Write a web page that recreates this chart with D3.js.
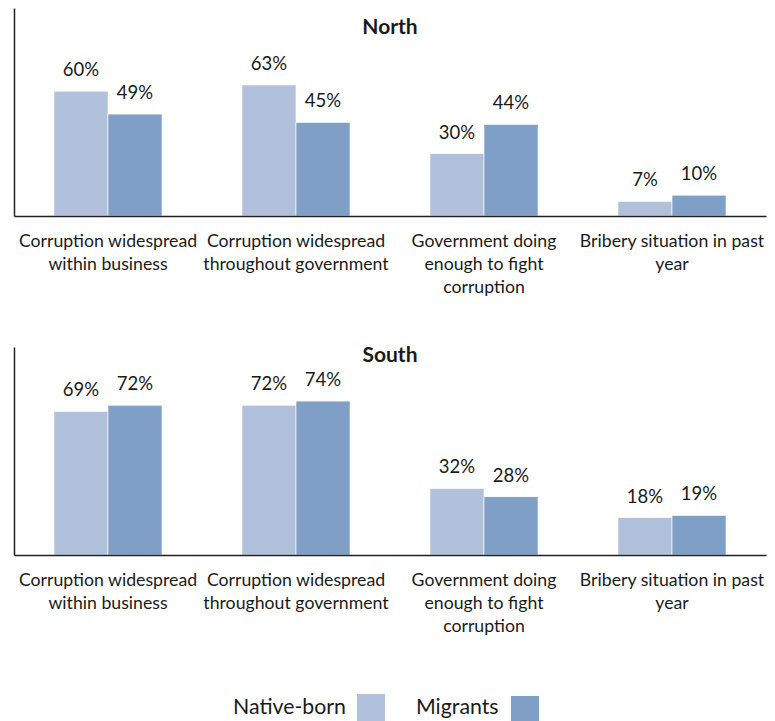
<!DOCTYPE html>
<html>
<head>
<meta charset="utf-8">
<script src="https://cdn.jsdelivr.net/npm/d3@7"></script>
<style>
  html, body { margin: 0; padding: 0; background: #fff; }
  svg { display: block; }
  text { font-family: Lato, "Liberation Sans", Arial, sans-serif; fill: #1a1a1a; }
</style>
</head>
<body>
<svg id="chart" width="775" height="721"></svg>
<script>
const categories = [
  "Corruption widespread within business",
  "Corruption widespread throughout government",
  "Government doing enough to fight corruption",
  "Bribery situation in past year"
];
const categoryLines = [
  ["Corruption widespread", "within business"],
  ["Corruption widespread", "throughout government"],
  ["Government doing", "enough to fight", "corruption"],
  ["Bribery situation in past", "year"]
];
const series = ["Native-born", "Migrants"];
const colors = ["#B1C1DC", "#7F9FC7"];
const panels = ["North", "South"];
const northNative = [60, 63, 30, 7];
const northMigrants = [49, 45, 44, 10];
const southNative = [69, 72, 32, 18];
const southMigrants = [72, 74, 28, 19];
const panelValues = [[northNative, northMigrants], [southNative, southMigrants]];

const svg = d3.select("#chart");
const left = 14, right = 766;
const layouts = [
  { top: 8, bottom: 216, titleY: 34 },
  { top: 347, bottom: 555, titleY: 362 }
];

const x0 = d3.scaleBand().domain(categories).range([left, right]).padding(0);
const x1 = d3.scaleBand().domain(series).range([0, x0.bandwidth()]).paddingInner(0).paddingOuter(0.74);

panels.forEach((name, pi) => {
  const L = layouts[pi];
  const y = d3.scaleLinear().domain([0, 100]).range([L.bottom, L.top]);
  const g = svg.append("g");

  // bars
  series.forEach((s, si) => {
    const vals = panelValues[pi][si];
    g.selectAll(null).data(categories).enter().append("rect")
      .attr("x", c => x0(c) + x1(s))
      .attr("y", (c, i) => y(vals[i]))
      .attr("width", x1.bandwidth())
      .attr("height", (c, i) => y(0) - y(vals[i]))
      .attr("fill", colors[si])
      .attr("stroke", "#ffffff")
      .attr("stroke-width", 0.6);
    g.selectAll(null).data(categories).enter().append("text")
      .attr("x", c => x0(c) + x1(s) + x1.bandwidth() / 2)
      .attr("y", (c, i) => y(vals[i]) - 15)
      .attr("text-anchor", "middle")
      .style("font-size", "18.5px")
      .text((c, i) => vals[i] + "%");
  });

  // axes lines
  const xAxis = d3.axisBottom(x0).tickSize(0).tickFormat("");
  const ax = g.append("g").attr("transform", `translate(0,${L.bottom})`).call(xAxis);
  ax.select(".domain").attr("stroke", "#222").attr("stroke-width", 1.5);
  const yAxis = d3.axisLeft(y).tickSize(0).tickValues([]);
  const ay = g.append("g").attr("transform", `translate(${left},0)`).call(yAxis);
  ay.select(".domain").attr("stroke", "#222").attr("stroke-width", 1.5);

  // category labels
  categories.forEach((c, ci) => {
    const t = g.append("text")
      .attr("x", x0(c) + x0.bandwidth() / 2)
      .attr("y", L.bottom + 31)
      .attr("text-anchor", "middle")
      .style("font-size", "17.7px");
    categoryLines[ci].forEach((line, li) => {
      t.append("tspan").attr("x", x0(c) + x0.bandwidth() / 2)
        .attr("dy", li === 0 ? 0 : 23).text(line);
    });
  });

  // title
  g.append("text")
    .attr("x", (left + right) / 2)
    .attr("y", L.titleY)
    .attr("text-anchor", "middle")
    .style("font-size", "21px")
    .style("font-weight", "bold")
    .text(name);
});

// legend
const legendItems = [
  { textX: 233, boxX: 357, boxY: 694 },
  { textX: 416, boxX: 511, boxY: 696 }
];
series.forEach((s, si) => {
  const it = legendItems[si];
  svg.append("text").attr("x", it.textX).attr("y", 714)
    .style("font-size", "21.3px").text(s);
  svg.append("rect").attr("x", it.boxX).attr("y", it.boxY)
    .attr("width", 28).attr("height", 28).attr("fill", colors[si]);
});
</script>
</body>
</html>
